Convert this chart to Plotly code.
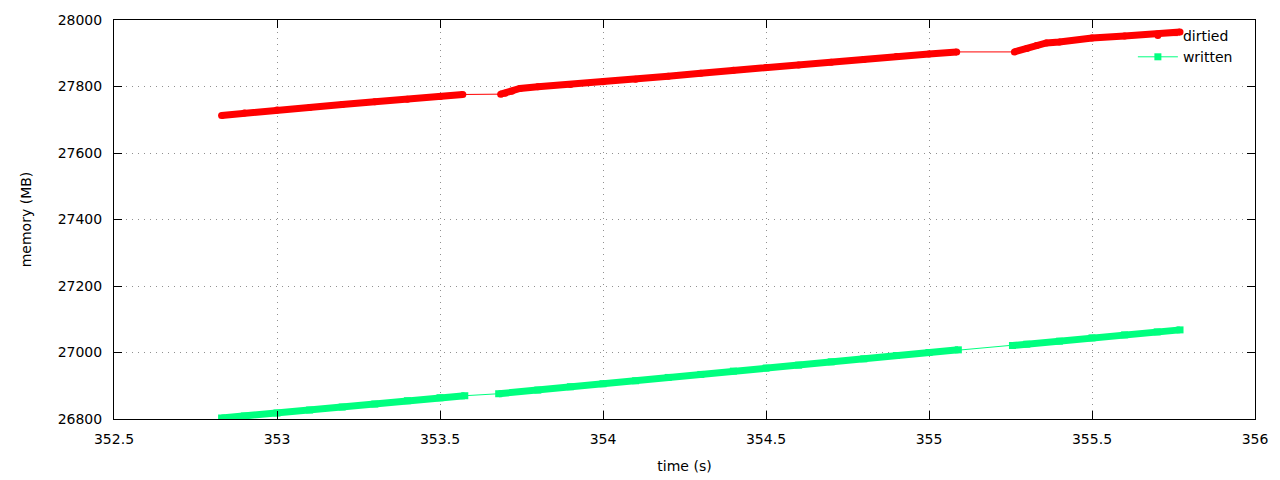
import plotly.graph_objects as go

# --- data (time in s, memory in MB), one list per continuous run ---
dirtied_time = [
    [352.83, 352.90, 353.00, 353.10, 353.20, 353.30, 353.40, 353.50, 353.57],
    [353.686, 353.70, 353.72, 353.745, 353.80, 353.90, 354.00, 354.10, 354.20, 354.30,
     354.40, 354.50, 354.60, 354.70, 354.80, 354.90, 355.00, 355.085],
    [355.262, 355.30, 355.33, 355.36, 355.40, 355.50, 355.60, 355.70, 355.77],
]
dirtied_mb = [
    [27713, 27720, 27729, 27737, 27746, 27754, 27762, 27770, 27776],
    [27777, 27780, 27786, 27794, 27799, 27806, 27814, 27822, 27831, 27840,
     27849, 27857, 27865, 27873, 27881, 27890, 27898, 27904],
    [27904, 27914, 27923, 27931, 27934, 27946, 27952, 27958, 27964],
]
written_time = [
    [352.83, 352.90, 353.00, 353.10, 353.20, 353.30, 353.40, 353.50, 353.576],
    [353.68, 353.80, 353.90, 354.00, 354.10, 354.20, 354.30, 354.40, 354.50, 354.60,
     354.70, 354.80, 354.90, 355.00, 355.09],
    [355.256, 355.30, 355.40, 355.50, 355.60, 355.70, 355.77],
]
written_mb = [
    [26803, 26809, 26818, 26827, 26836, 26845, 26855, 26864, 26870],
    [26876, 26887, 26897, 26906, 26915, 26925, 26934, 26944, 26953, 26962,
     26972, 26981, 26991, 27000, 27008],
    [27021, 27025, 27034, 27044, 27053, 27062, 27068],
]

x_ticks = [352.5, 353, 353.5, 354, 354.5, 355, 355.5, 356]
x_tick_text = ["352.5", "353", "353.5", "354", "354.5", "355", "355.5", "356"]
y_ticks = [26800, 27000, 27200, 27400, 27600, 27800, 28000]
y_tick_text = ["26800", "27000", "27200", "27400", "27600", "27800", "28000"]

RED = "#ff0000"
GREEN = "#00ff7f"
FONT = "DejaVu Sans"
FS = 14


def flat(runs):
    out = []
    for r in runs:
        out.extend(r)
    return out


def with_breaks(runs):
    out = []
    for i, r in enumerate(runs):
        if i:
            out.append(None)
        out.extend(r)
    return out


fig = go.Figure()

series = [
    ("dirtied", dirtied_time, dirtied_mb, RED, "circle"),
    ("written", written_time, written_mb, GREEN, "square"),
]

# thick bands where samples are dense
for name, ts, vs, color, sym in series:
    fig.add_trace(go.Scatter(
        x=with_breaks(ts), y=with_breaks(vs), mode="lines",
        line=dict(color=color, width=7), showlegend=False, hoverinfo="skip",
        connectgaps=False,
    ))

# thin connecting line with point markers (legend entries)
for name, ts, vs, color, sym in series:
    fig.add_trace(go.Scatter(
        x=flat(ts), y=flat(vs), mode="lines+markers", name=name,
        line=dict(color=color, width=1),
        marker=dict(color=color, symbol=sym, size=7),
    ))

axis_common = dict(
    showline=True, linecolor="black", linewidth=1, mirror="ticks",
    ticks="inside", ticklen=8, tickcolor="black", tickwidth=1,
    showgrid=True, gridcolor="#909090", griddash="1px,5px", gridwidth=1,
    zeroline=False, automargin=False,
    tickfont=dict(family=FONT, size=FS, color="black"),
)

fig.update_xaxes(
    range=[352.5, 356], tickvals=x_ticks, ticktext=x_tick_text,
    title=dict(text="time (s)", font=dict(family=FONT, size=FS, color="black"), standoff=15),
    ticklabelstandoff=7,
    **axis_common,
)
fig.update_yaxes(
    range=[26800, 28000], tickvals=y_ticks, ticktext=y_tick_text,
    title=dict(text="memory (MB)", font=dict(family=FONT, size=FS, color="black"), standoff=22),
    ticklabelstandoff=8,
    **axis_common,
)

fig.update_layout(
    width=1280, height=480,
    margin=dict(l=114, r=25, t=20, b=61),
    paper_bgcolor="white", plot_bgcolor="white",
    font=dict(family=FONT, size=FS, color="black"),
    legend=dict(
        x=0.985, y=1.0, xanchor="right", yanchor="top",
        bgcolor="rgba(0,0,0,0)", borderwidth=0,
        font=dict(family=FONT, size=FS, color="black"),
        itemwidth=40, tracegroupgap=0,
    ),
)

fig.write_html(
    "out.html",
    config={"displayModeBar": False},
    post_script="document.body.style.margin='0px';document.body.style.overflow='hidden';",
)
